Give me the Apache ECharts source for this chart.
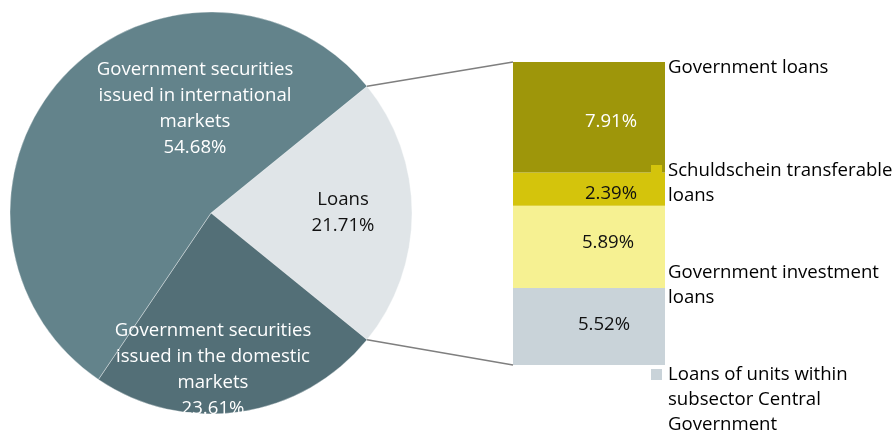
<!DOCTYPE html>
<html><head><meta charset="utf-8">
<script src="https://cdn.jsdelivr.net/npm/echarts@6/dist/echarts.min.js"></script>
<style>html,body{margin:0;padding:0;background:#fff}#c{width:893px;height:432px}</style>
</head><body><div id="c"></div>
<script>
// ---- data ----
const pieNames = ['Loans', 'Government securities issued in the domestic markets', 'Government securities issued in international markets'];
const pieLabels = ['Loans', 'Government securities\nissued in the domestic\nmarkets', 'Government securities\nissued in international\nmarkets'];
const pieValues = [21.71, 23.61, 54.68];
const barNames = ['Loans of units within subsector Central Government', 'Government investment loans', 'Schuldschein transferable loans', 'Government loans'];
const barValues = [5.52, 5.89, 2.39, 7.91];
const legendLines = [['Loans of units within', 'subsector Central', 'Government'], ['Government investment', 'loans'], ['Schuldschein transferable', 'loans'], ['Government loans']];

// ---- style ----
const FONT = '"Open Sans"';
const FS = 18.6;
const pieColors = ['#e0e5e8', '#536f77', '#63838b'];
const pieLabelColors = ['#111', '#fff', '#fff'];
const pieLabelPos = [[343, 213], [213, 370], [195, 109]];
const barColors = ['#c9d3d9', '#f6f192', '#d4c40c', '#9e960a'];
const barLabelColors = ['#111', '#111', '#111', '#fff'];
const barLabelOffset = [[15, -2], [19, -4], [22, 5], [22, 5]];
const legendFirstY = [375, 273, 171, 68];
const CX = 211, CY = 213, R = 201;

const total = pieValues.reduce((a, b) => a + b, 0);
const startAngle = pieValues[0] / total * 360 / 2;
const barTotal = barValues.reduce((a, b) => a + b, 0);

const chart = echarts.init(document.getElementById('c'), null, {renderer: 'canvas'});

const option = {
  animation: false,
  backgroundColor: '#fff',
  textStyle: {fontFamily: FONT},
  grid: {left: 513, top: 62, width: 152, height: 303},
  xAxis: {type: 'category', data: ['Loans'], show: false},
  yAxis: {type: 'value', min: 0, max: barTotal, show: false},
  series: [
    {
      type: 'pie',
      center: [CX, CY],
      radius: R,
      startAngle: startAngle,
      clockwise: true,
      avoidLabelOverlap: false,
      itemStyle: {borderColor: 'rgba(255,255,255,0.6)', borderWidth: 0.6},
      label: {
        show: true, position: 'inside',
        fontFamily: FONT, fontSize: FS, lineHeight: 26,
        align: 'center', verticalAlign: 'middle',
        formatter: p => pieLabels[p.dataIndex] + '\n' + p.value.toFixed(2) + '%'
      },
      labelLine: {show: false},
      emphasis: {disabled: true},
      labelLayout: p => ({x: pieLabelPos[p.dataIndex][0], y: pieLabelPos[p.dataIndex][1], align: 'center', verticalAlign: 'middle'}),
      data: pieValues.map((v, i) => ({
        name: pieNames[i], value: v,
        itemStyle: {color: pieColors[i]},
        label: {color: pieLabelColors[i]}
      }))
    },
    ...barValues.map((v, i) => ({
      type: 'bar', name: barNames[i], stack: 'loans',
      barWidth: '100%',
      itemStyle: {color: barColors[i]},
      label: {
        show: true, position: 'inside', color: barLabelColors[i],
        fontFamily: FONT, fontSize: FS, offset: barLabelOffset[i],
        formatter: p => p.value.toFixed(2) + '%'
      },
      emphasis: {disabled: true},
      data: [v]
    }))
  ]
};
chart.setOption(option);

// connector lines and legend
const rad = startAngle * Math.PI / 180;
const p1 = [CX + R * Math.cos(rad), CY - R * Math.sin(rad)];
const p2 = [CX + R * Math.cos(rad), CY + R * Math.sin(rad)];
const xMid = chart.convertToPixel({xAxisIndex: 0}, 0);
const barLeft = xMid - 152 / 2;
const yTop = chart.convertToPixel({yAxisIndex: 0}, barTotal);
const yBot = chart.convertToPixel({yAxisIndex: 0}, 0);

const graphics = [
  {type: 'line', z: 5, shape: {x1: p1[0], y1: p1[1], x2: barLeft, y2: yTop}, style: {stroke: '#7f7f7f', lineWidth: 1.5}},
  {type: 'line', z: 5, shape: {x1: p2[0], y1: p2[1], x2: barLeft, y2: yBot}, style: {stroke: '#7f7f7f', lineWidth: 1.5}}
];
legendLines.forEach((lines, i) => {
  const y = legendFirstY[i];
  graphics.push({type: 'rect', z: 20, shape: {x: 651, y: y - 6, width: 11, height: 11}, style: {fill: barColors[i]}});
  graphics.push({type: 'text', z: 20, x: 668, y: y - 12.5, style: {
    text: lines.join('\n'), fill: '#000', font: FS + 'px ' + FONT, lineHeight: 25,
    textVerticalAlign: 'top', verticalAlign: 'top'
  }});
});
chart.setOption({graphic: graphics});
</script>
</body></html>
